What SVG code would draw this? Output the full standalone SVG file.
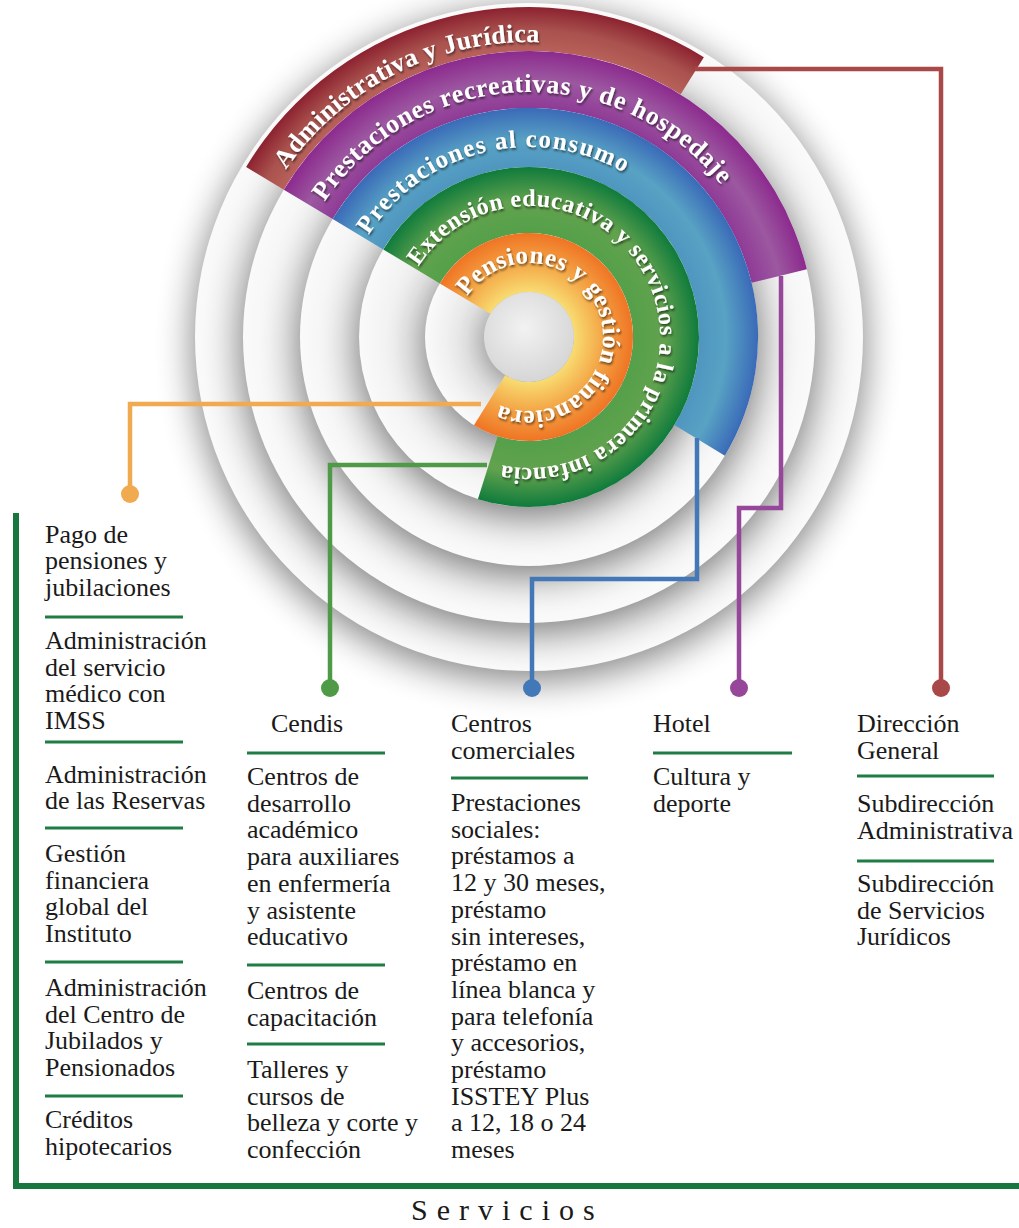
<svg xmlns="http://www.w3.org/2000/svg" width="1019" height="1228" viewBox="0 0 1019 1228">
<style>
.body{font-family:"Liberation Serif","Times New Roman",serif;font-size:26px;fill:#1a1a1a}
.title{font-family:"Liberation Serif","Times New Roman",serif;font-size:30px;letter-spacing:9px;fill:#1a1a1a}
.ring{font-family:"Liberation Serif","Times New Roman",serif;font-weight:bold;fill:#ffffff;filter:url(#tsh)}
.sep{stroke:#1f7d44;stroke-width:3;fill:none}
.face{fill:url(#face)}
.shadow{fill:#000;opacity:0.48;filter:url(#blur)}
.con{fill:none;stroke-width:4.5;stroke-linejoin:miter}
</style>
<defs>
<filter id="blur" x="-40%" y="-40%" width="180%" height="180%"><feGaussianBlur stdDeviation="18"/></filter>
<filter id="tsh" x="-10%" y="-10%" width="120%" height="120%"><feDropShadow dx="1" dy="2" stdDeviation="1.2" flood-color="#000" flood-opacity="0.55"/></filter>
<radialGradient id="face" cx="0.5" cy="0.5" r="0.5">
<stop offset="0" stop-color="#e4e4e4"/><stop offset="0.75" stop-color="#eeeeee"/><stop offset="1" stop-color="#fafafa"/>
</radialGradient>
<radialGradient id="center" cx="0.45" cy="0.4" r="0.6">
<stop offset="0" stop-color="#f2f2f2"/><stop offset="1" stop-color="#d6d6d6"/>
</radialGradient>
<radialGradient id="gRed" gradientUnits="userSpaceOnUse" cx="529" cy="337" r="330">
<stop offset="0.867" stop-color="#b8615a"/><stop offset="0.93" stop-color="#a9524e"/><stop offset="1" stop-color="#8c2230"/>
</radialGradient>
<radialGradient id="gPur" gradientUnits="userSpaceOnUse" cx="529" cy="337" r="286">
<stop offset="0.80" stop-color="#8f3a96"/><stop offset="0.9" stop-color="#9c58a0"/><stop offset="1" stop-color="#8c2a8e"/>
</radialGradient>
<radialGradient id="gBlu" gradientUnits="userSpaceOnUse" cx="529" cy="337" r="229">
<stop offset="0.742" stop-color="#4f96c0"/><stop offset="0.86" stop-color="#58a2c4"/><stop offset="1" stop-color="#3a6ab8"/>
</radialGradient>
<radialGradient id="gGrn" gradientUnits="userSpaceOnUse" cx="529" cy="337" r="170">
<stop offset="0.612" stop-color="#55a04a"/><stop offset="0.8" stop-color="#62a24e"/><stop offset="1" stop-color="#0f7b3c"/>
</radialGradient>
<radialGradient id="gOra" gradientUnits="userSpaceOnUse" cx="529" cy="337" r="104">
<stop offset="0.433" stop-color="#f8dc72"/><stop offset="0.7" stop-color="#f4a848"/><stop offset="1" stop-color="#ef7424"/>
</radialGradient>
<path id="tpRed" d="M285.88,169.91 A295,295 0 0 1 605.35,52.05"/>
<path id="tpPur" d="M324.70,201.77 A245,245 0 0 1 741.18,214.5"/>
<path id="tpBlu" d="M368.76,234.91 A190,190 0 0 1 651.13,191.45"/>
<path id="tpGrn" d="M418.52,266.61 A131,131 0 1 1 484.20,460.10"/>
<path id="tpOra" d="M467.29,296.16 A74,74 0 1 1 492,401.09"/>
</defs>
<rect x="0" y="0" width="1019" height="1228" fill="#ffffff"/>

<g id="discs">
<circle class="shadow" cx="529" cy="345" r="336"/>
<circle class="face" cx="529" cy="337" r="334"/>
<circle class="shadow" cx="529" cy="345" r="288"/>
</g>
<g id="ring-administrativa">
<path fill="url(#gRed)" d="M246.13,167.04 A330,330 0 0 1 703.87,57.14 L680.56,94.46 A286,286 0 0 0 283.85,189.70 Z"/>
</g>
<g id="discs2">
<circle class="face" cx="529" cy="337" r="286"/>
<circle class="shadow" cx="529" cy="345" r="231"/>
</g>
<g id="ring-recreativas">
<path fill="url(#gPur)" d="M283.85,189.70 A286,286 0 0 1 806.86,269.27 L751.48,282.77 A229,229 0 0 0 332.71,219.06 Z"/>
</g>
<g id="discs3">
<circle class="face" cx="529" cy="337" r="229"/>
<circle class="shadow" cx="529" cy="345" r="172"/>
</g>
<g id="ring-consumo">
<path fill="url(#gBlu)" d="M332.71,219.06 A229,229 0 1 1 724.88,455.63 L674.41,425.07 A170,170 0 1 0 383.28,249.44 Z"/>
</g>
<g id="discs4">
<circle class="face" cx="529" cy="337" r="170"/>
<circle class="shadow" cx="529" cy="345" r="106"/>
</g>
<g id="ring-educativa">
<path fill="url(#gGrn)" d="M383.28,249.44 A170,170 0 1 1 477.88,499.13 L497.73,436.19 A104,104 0 1 0 439.85,283.44 Z"/>
</g>
<g id="discs5">
<circle class="face" cx="529" cy="337" r="104"/>
<circle class="shadow" cx="529" cy="342" r="46"/>
</g>
<g id="ring-pensiones">
<path fill="url(#gOra)" d="M439.85,283.44 A104,104 0 1 1 473.89,425.20 L505.15,375.16 A45,45 0 1 0 490.43,313.82 Z"/>
</g>
<g id="center-disc">
<circle cx="529" cy="337" r="45" fill="url(#center)"/>
</g>

<g id="ring-labels">
<text class="ring" font-size="26"><textPath href="#tpRed" textLength="296">Administrativa y Jurídica</textPath></text>
<text class="ring" font-size="26"><textPath href="#tpPur" textLength="462">Prestaciones recreativas y de hospedaje</textPath></text>
<text class="ring" font-size="25"><textPath href="#tpBlu" textLength="290">Prestaciones al consumo</textPath></text>
<text class="ring" font-size="24"><textPath href="#tpGrn" textLength="570">Extensión educativa y servicios a la primera infancia</textPath></text>
<text class="ring" font-size="25"><textPath href="#tpOra" textLength="335">Pensiones y gestión financiera</textPath></text>
</g>

<g id="connectors">
<path class="con" stroke="#a84848" d="M695,69 H941 V680"/>
<circle cx="941" cy="688" r="9" fill="#a84848"/>
<path class="con" stroke="#96479a" d="M781,276 V508 H739 V680"/>
<circle cx="739" cy="688" r="9" fill="#96479a"/>
<path class="con" stroke="#4378b8" d="M697,438 V579 H532 V680"/>
<circle cx="532" cy="688" r="9" fill="#4378b8"/>
<path class="con" stroke="#4e9a47" d="M487,465 H330 V680"/>
<circle cx="330" cy="688" r="9" fill="#4e9a47"/>
<path class="con" stroke="#f0aa50" d="M481,404 H130 V486"/>
<circle cx="130" cy="494" r="9" fill="#f0aa50"/>
</g>

<g id="frame">
<path d="M16,513 V1186 H1019" fill="none" stroke="#17773f" stroke-width="6"/>
</g>

<g id="col-pensiones">
<text class="body" x="45" y="542.5">Pago de<tspan x="45" dy="26.7">pensiones y</tspan><tspan x="45" dy="26.7">jubilaciones</tspan></text>
<line class="sep" x1="45" y1="617" x2="183" y2="617"/>
<text class="body" x="45" y="649">Administración<tspan x="45" dy="26.7">del servicio</tspan><tspan x="45" dy="26.7">médico con</tspan><tspan x="45" dy="26.7">IMSS</tspan></text>
<line class="sep" x1="45" y1="742" x2="183" y2="742"/>
<text class="body" x="45" y="782.5">Administración<tspan x="45" dy="26.7">de las Reservas</tspan></text>
<line class="sep" x1="45" y1="828" x2="183" y2="828"/>
<text class="body" x="45" y="862">Gestión<tspan x="45" dy="26.7">financiera</tspan><tspan x="45" dy="26.7">global del</tspan><tspan x="45" dy="26.7">Instituto</tspan></text>
<line class="sep" x1="45" y1="962" x2="183" y2="962"/>
<text class="body" x="45" y="996">Administración<tspan x="45" dy="26.7">del Centro de</tspan><tspan x="45" dy="26.7">Jubilados y</tspan><tspan x="45" dy="26.7">Pensionados</tspan></text>
<line class="sep" x1="45" y1="1096" x2="183" y2="1096"/>
<text class="body" x="45" y="1128">Créditos<tspan x="45" dy="26.7">hipotecarios</tspan></text>
</g>

<g id="col-cendis">
<text class="body" x="271" y="732">Cendis</text>
<line class="sep" x1="247" y1="753" x2="385" y2="753"/>
<text class="body" x="247" y="785">Centros de<tspan x="247" dy="26.7">desarrollo</tspan><tspan x="247" dy="26.7">académico</tspan><tspan x="247" dy="26.7">para auxiliares</tspan><tspan x="247" dy="26.7">en enfermería</tspan><tspan x="247" dy="26.7">y asistente</tspan><tspan x="247" dy="26.7">educativo</tspan></text>
<line class="sep" x1="247" y1="965" x2="385" y2="965"/>
<text class="body" x="247" y="999">Centros de<tspan x="247" dy="26.7">capacitación</tspan></text>
<line class="sep" x1="247" y1="1044" x2="385" y2="1044"/>
<text class="body" x="247" y="1078">Talleres y<tspan x="247" dy="26.7">cursos de</tspan><tspan x="247" dy="26.7">belleza y corte y</tspan><tspan x="247" dy="26.7">confección</tspan></text>
</g>

<g id="col-comerciales">
<text class="body" x="451" y="732">Centros<tspan x="451" dy="26.7">comerciales</tspan></text>
<line class="sep" x1="451" y1="778" x2="588" y2="778"/>
<text class="body" x="451" y="811">Prestaciones<tspan x="451" dy="26.7">sociales:</tspan><tspan x="451" dy="26.7">préstamos a</tspan><tspan x="451" dy="26.7">12 y 30 meses,</tspan><tspan x="451" dy="26.7">préstamo</tspan><tspan x="451" dy="26.7">sin intereses,</tspan><tspan x="451" dy="26.7">préstamo en</tspan><tspan x="451" dy="26.7">línea blanca y</tspan><tspan x="451" dy="26.7">para telefonía</tspan><tspan x="451" dy="26.7">y accesorios,</tspan><tspan x="451" dy="26.7">préstamo</tspan><tspan x="451" dy="26.7">ISSTEY Plus</tspan><tspan x="451" dy="26.7">a 12, 18 o 24</tspan><tspan x="451" dy="26.7">meses</tspan></text>
</g>

<g id="col-hotel">
<text class="body" x="653" y="732">Hotel</text>
<line class="sep" x1="653" y1="753" x2="792" y2="753"/>
<text class="body" x="653" y="785">Cultura y<tspan x="653" dy="26.7">deporte</tspan></text>
</g>

<g id="col-direccion">
<text class="body" x="857" y="732">Dirección<tspan x="857" dy="26.7">General</tspan></text>
<line class="sep" x1="857" y1="776" x2="994" y2="776"/>
<text class="body" x="857" y="812">Subdirección<tspan x="857" dy="26.7">Administrativa</tspan></text>
<line class="sep" x1="857" y1="861" x2="994" y2="861"/>
<text class="body" x="857" y="892">Subdirección<tspan x="857" dy="26.7">de Servicios</tspan><tspan x="857" dy="26.7">Jurídicos</tspan></text>
</g>

<g id="title">
<text class="title" x="411" y="1220">Servicios</text>
</g>
</svg>
